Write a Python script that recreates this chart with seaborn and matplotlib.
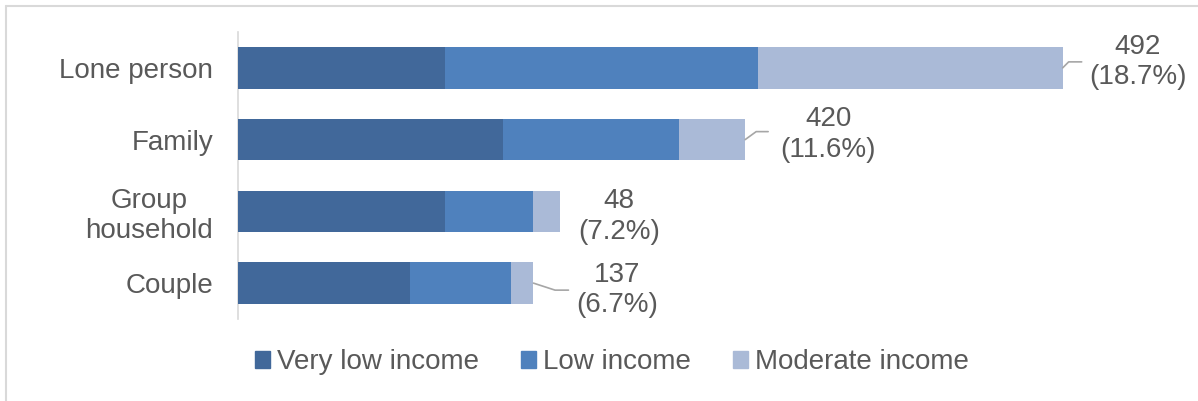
import matplotlib
matplotlib.use('Agg')
import matplotlib.pyplot as plt
import seaborn as sns
import pandas as pd
from matplotlib.lines import Line2D

# data (share of households, %)
categories = ['Lone person', 'Family', 'Group\nhousehold', 'Couple']
very_low = [4.7, 6.0, 4.7, 3.9]
low = [7.1, 4.0, 2.0, 2.3]
moderate = [6.9, 1.5, 0.6, 0.5]
counts = [492, 420, 48, 137]
pct_labels = ['18.7%', '11.6%', '7.2%', '6.7%']

series = ['Very low income', 'Low income', 'Moderate income']
colors = ['#41689A', '#4F81BD', '#AABAD7']

df = pd.DataFrame({'category': categories, series[0]: very_low,
                   series[1]: low, series[2]: moderate})

sns.set_style('white')
plt.rcParams['font.family'] = ['Liberation Sans', 'DejaVu Sans']
txt = '#595959'

fig = plt.figure(figsize=(11.98, 4.01), dpi=100)
ax = fig.add_axes([238 / 1198, 82 / 401, 882 / 1198, 287 / 401])

# stacked bars: draw cumulative totals, widest first underneath
left = [0] * len(categories)
for k, (s, c) in enumerate(zip(series, colors)):
    left = [a + b for a, b in zip(left, df[s])]
    sns.barplot(x=left, y=categories, color=c, orient='h', width=0.58,
                saturation=1, linewidth=0, ax=ax, zorder=3 - k)
totals = left

ax.set_xlim(0, 20)
ax.set_ylim(3.5, -0.5)
ax.set_xlabel('')
ax.set_ylabel('')
ax.set_xticks([])
for sp in ['top', 'right', 'bottom']:
    ax.spines[sp].set_visible(False)
ax.spines['left'].set_color('#D9D9D9')
ax.spines['left'].set_linewidth(1.2)
ax.tick_params(axis='y', length=0, pad=18, labelsize=20, labelcolor=txt)
for t in ax.get_yticklabels():
    t.set_multialignment('center')

# data labels
text_off = [(75, 6), (83, 5), (59, -5), (84, -7)]
leader = [(19, 6, 45), (23, 8, 36), None, (35, -7, -18)]
for i, tot in enumerate(totals):
    ax.annotate(f'{counts[i]}\n({pct_labels[i]})', xy=(tot, i),
                xytext=text_off[i], textcoords='offset pixels',
                ha='center', va='center', fontsize=20, color=txt,
                linespacing=1.22)
    if leader[i]:
        dx, dy, ang = leader[i]
        ax.annotate('', xy=(tot, i), xytext=(dx, dy), textcoords='offset pixels',
                    arrowprops=dict(arrowstyle='-', color='#A6A6A6', lw=1.2,
                                    shrinkA=0, shrinkB=0,
                                    connectionstyle=f'angle,angleA=180,angleB={ang},rad=0'))

handles = [plt.Rectangle((0, 0), 1, 1, color=c) for c in colors]
fig.legend(handles, series, loc='center', bbox_to_anchor=(612 / 1198, 1 - 362 / 401),
           ncol=3, frameon=False, fontsize=20, labelcolor=txt,
           handlelength=0.55, handleheight=0.55, handletextpad=0.25,
           columnspacing=1.5)

# chart border (left and top only visible)
fig.add_artist(Line2D([6 / 1198, 6 / 1198], [0, 1 - 6 / 401], color='#D9D9D9', lw=1.5))
fig.add_artist(Line2D([6 / 1198, 1], [1 - 6 / 401, 1 - 6 / 401], color='#D9D9D9', lw=1.5))

fig.savefig('out.png', dpi=100)
